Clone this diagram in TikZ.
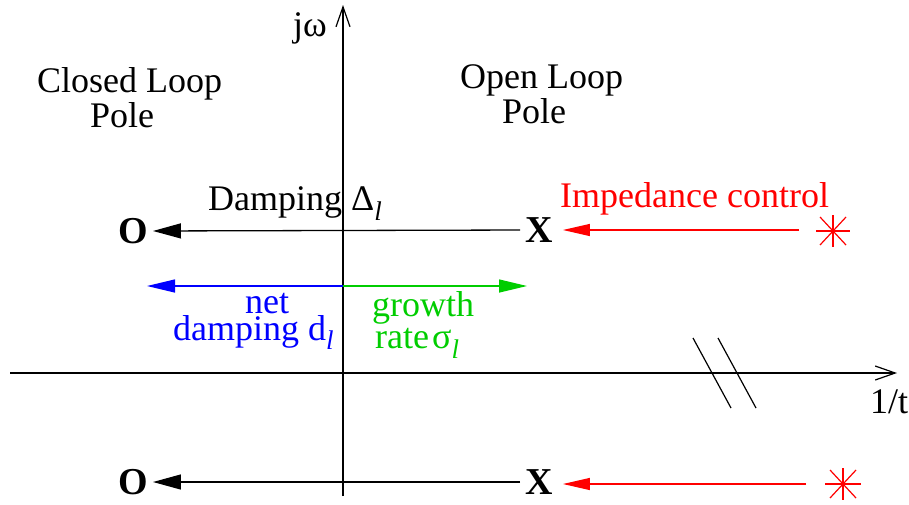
\documentclass[tikz,border=0pt]{standalone}
\usepackage{fontspec}
\setmainfont{Liberation Serif}
\usetikzlibrary{arrows.meta,calc}
\definecolor{fgreen}{RGB}{0,205,0}
\definecolor{fblue}{RGB}{0,0,255}
\definecolor{fred}{RGB}{255,0,0}
\begin{document}
\begin{tikzpicture}[x=1pt,y=-1pt,
  txt/.style={inner sep=0pt,anchor=base west,font=\fontsize{36}{40}\selectfont},
  pole/.style={inner sep=0pt,font=\fontsize{38}{40}\selectfont\bfseries},
  axis/.style={line width=1.2pt,-{Straight Barb[length=20pt,width=14pt,line width=1.2pt]}},
  rowarr/.style={line width=1.3pt,-{Triangle[length=28pt,width=15pt]},shorten <=5pt,shorten >=5pt},
  colarr/.style={line width=1.3pt,-{Triangle[length=28pt,width=13pt]}},
  starline/.style={fred,line width=1.2pt}]
\useasboundingbox (0,0) rectangle (909,504);
% axes
\coordinate (vb) at (343,496);
\coordinate (vt) at (343,5);
\coordinate (hl) at (10,373);
\coordinate (hr) at (897,373);
\draw[axis] (vb) -- (vt);
\draw[axis] (hl) -- (hr);
\node[txt] (jw) at (293,36) {jω};
\node[txt] (ot) at (870,413) {1/t};
% break marks
\coordinate (b1a) at (693,338); \coordinate (b1b) at (731,408);
\coordinate (b2a) at (718,338); \coordinate (b2b) at (756,408);
\draw[line width=1.2pt] (b1a) -- (b1b);
\draw[line width=1.2pt] (b2a) -- (b2b);
% headings
\node[txt] (cl1) at (37,92) {Closed Loop};
\node[txt] (cl2) at (90,127) {Pole};
\node[txt] (ol1) at (460,88) {Open Loop};
\node[txt] (ol2) at (502,123) {Pole};
% top row
\node[pole] (O1) at (133,231) {O};
\node[pole] (X1) at (539,230) {X};
\draw[rowarr] (X1.west) -- (O1.east);
\node[txt] (damp) at (208,210) {Damping\hspace{9pt}Δ\raisebox{-10pt}{\fontsize{27}{30}\selectfont\itshape l}};
\coordinate (s1) at (833,231);
\draw[starline] ($(s1)+(-17,0)$) -- ($(s1)+(17,0)$);
\draw[starline] ($(s1)+(0,-16)$) -- ($(s1)+(0,16)$);
\draw[starline] ($(s1)+(-13,-14)$) -- ($(s1)+(13,14)$);
\draw[starline] ($(s1)+(-13,14)$) -- ($(s1)+(13,-14)$);
\coordinate (r1s) at (799,230);
\draw[colarr,fred,line width=1.2pt,-{Triangle[length=27pt,width=12pt]}] (r1s) -- ($(X1.east)+(10,0)$);
\node[txt,text=fred] (imp) at (560,207) {Impedance control};
% middle arrows
\coordinate (m0) at (343,286);
\coordinate (mb) at (147,286);
\coordinate (mg) at (527,286);
\draw[colarr,fblue] (m0) -- (mb);
\draw[colarr,fgreen] (m0) -- (mg);
\node[txt,text=fblue] (net) at (245,313) {net};
\node[txt,text=fblue] (dd) at (173,340) {damping d\raisebox{-9pt}{\fontsize{27}{30}\selectfont\itshape l}};
\node[txt,text=fgreen] (gr) at (372,316) {growth};
\node[txt,text=fgreen] (rt) at (375,348) {rate\hspace{3pt}σ\raisebox{-10pt}{\fontsize{27}{30}\selectfont\itshape l}};
% bottom row
\node[pole] (O2) at (133,482) {O};
\node[pole] (X2) at (539,482) {X};
\draw[rowarr] (X2.west) -- (O2.east);
\coordinate (s2) at (843,484);
\draw[starline] ($(s2)+(-18,0)$) -- ($(s2)+(18,0)$);
\draw[starline] ($(s2)+(0,-16)$) -- ($(s2)+(0,16)$);
\draw[starline] ($(s2)+(-13,-14)$) -- ($(s2)+(13,14)$);
\draw[starline] ($(s2)+(-13,14)$) -- ($(s2)+(13,-14)$);
\coordinate (r2s) at (806,484);
\draw[colarr,fred,line width=1.2pt,-{Triangle[length=27pt,width=12pt]}] (r2s) -- ($(X2.east)+(10,2)$);
\end{tikzpicture}
\end{document}
